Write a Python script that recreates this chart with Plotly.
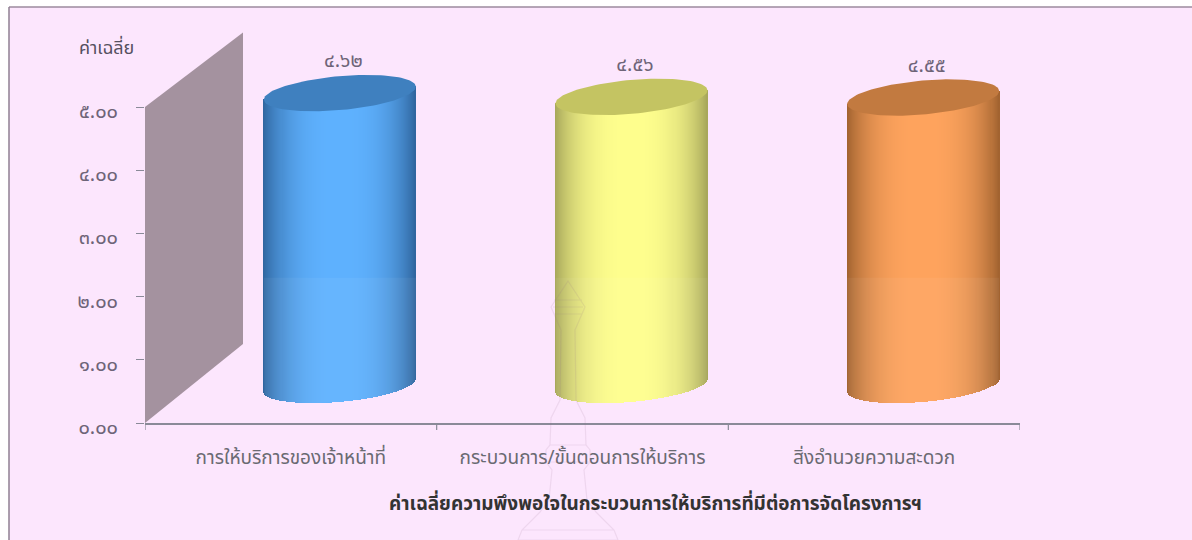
import numpy as np
import plotly.graph_objects as go

categories = ["การให้บริการของเจ้าหน้าที่", "กระบวนการ/ขั้นตอนการให้บริการ", "สิ่งอำนวยความสะดวก"]
values = [4.62, 4.56, 4.55]
y_ticks = [0, 1, 2, 3, 4, 5]
y_tick_labels = ["๐.๐๐", "๑.๐๐", "๒.๐๐", "๓.๐๐", "๔.๐๐", "๕.๐๐"]
y_title = "ค่าเฉลี่ย"
x_title = "ค่าเฉลี่ยความพึงพอใจในกระบวนการให้บริการที่มีต่อการจัดโครงการฯ"
side_center = ["#5FB2FF", "#FFFF8E", "#FFA45E"]
side_edge = ["#2F659E", "#A6A65A", "#A0622F"]
top_fill = ["#3F80BF", "#C4C462", "#C27A40"]

W, H = 1192, 540
X0, X1, Y0, PX_UNIT = 145, 1020, 423, 63.2
Y_MAX = 6.5
DEPTH_X, DEPTH_Y = 0.168, 0.6
A, B, S = 0.2606, 17 / PX_UNIT, 6.5 / PX_UNIT
N = 150
THAI = str.maketrans("0123456789", "๐๑๒๓๔๕๖๗๘๙")
FONT = "Noto Sans, Noto Sans Thai, DejaVu Sans, Liberation Sans, sans-serif"
AXIS = "#8A8A98"


def rgb(h):
    return np.array([int(h[i:i + 2], 16) for i in (1, 3, 5)], float)


def mix(edge, center, f):
    c = rgb(edge) * (1 - f) + rgb(center) * f
    return "rgb(%d,%d,%d)" % tuple(c)


fig = go.Figure()

# back wall
fig.add_trace(go.Scatter(
    x=[-0.5, -0.5, -0.5 + 2 * DEPTH_X, -0.5 + 2 * DEPTH_X, -0.5],
    y=[0, 5, 5 + 2 * DEPTH_Y - 0.02, 2 * DEPTH_Y + 0.05, 0],
    mode="lines", line=dict(width=0), fill="toself", fillcolor="#A4929F",
    hoverinfo="skip", showlegend=False))

for i, v in enumerate(values):
    cx = i + DEPTH_X
    u = (np.arange(N) + 0.5) / N * 2 - 1
    low = DEPTH_Y - B * np.sqrt(1 - u ** 2) + S * u
    high = DEPTH_Y + v + S * u
    f = np.clip(1 - np.abs(u) ** 2.6, 0, 1) ** 0.9
    colors = [mix(side_edge[i], side_center[i], a) for a in f]
    xs = cx + u * A
    fig.add_trace(go.Bar(
        x=xs, y=high - low, base=low, width=[2 * A / N * 1.15] * N,
        marker=dict(color=colors, line=dict(width=0)),
        hoverinfo="skip", showlegend=False))
    # lighter lower band in the source image
    fig.add_trace(go.Scatter(
        x=np.concatenate([[cx - A], xs, [cx + A], [cx - A]]),
        y=np.concatenate([[2.3], low, [2.3], [2.3]]),
        mode="lines", line=dict(width=0), fill="toself",
        fillcolor="rgba(255,255,255,0.05)",
        hoverinfo="skip", showlegend=False))
    t = np.linspace(0, 2 * np.pi, 120)
    fig.add_trace(go.Scatter(
        x=cx + A * np.cos(t), y=DEPTH_Y + v + S * np.cos(t) + B * np.sin(t),
        mode="lines", line=dict(width=0), fill="toself", fillcolor=top_fill[i],
        hoverinfo="skip", showlegend=False))
    fig.add_trace(go.Scatter(
        x=[cx + 0.012], y=[v + 1.09], mode="text",
        text=[f"{v:.2f}".translate(THAI)], textposition="middle center",
        textfont=dict(family=FONT, size=20, color="#6E6478"),
        hoverinfo="skip", showlegend=False))


def px(x):
    return x / W


def py(y):
    return 1 - y / H


def emblem_path():
    half = [(0, 281), (17, 307), (7, 330), (8, 400), (17, 418), (18, 445), (22, 450),
            (22, 462), (16, 470), (19, 500), (28, 512), (46, 530), (50, 540)]
    pts = [(568 - a, b) for a, b in half] + [(568 + a, b) for a, b in reversed(half)]
    body = "M" + " L".join(f"{px(a):.5f},{py(b):.5f}" for a, b in pts) + " Z"
    bars = "".join(f" M{px(568 - a):.5f},{py(b):.5f} L{px(568 + a):.5f},{py(b):.5f}"
                   for a, b in [(14, 300), (15, 307), (14, 314), (18, 445), (22, 462), (19, 500), (46, 530)])
    return body + bars


shapes = [
    dict(type="rect", xref="paper", yref="paper", x0=px(9), x1=1, y0=0, y1=py(7),
         fillcolor="#FCE6FD", line=dict(width=0), layer="below"),
    dict(type="line", xref="paper", yref="paper", x0=px(9), x1=1, y0=py(7), y1=py(7),
         line=dict(color="#9C8A9E", width=1.5), layer="below"),
    dict(type="line", xref="paper", yref="paper", x0=px(9), x1=px(9), y0=0, y1=py(7),
         line=dict(color="#8F7F92", width=1.5), layer="below"),
    dict(type="path", xref="paper", yref="paper", path=emblem_path(),
         line=dict(color="rgba(150,110,140,0.13)", width=1.2), layer="above"),
]

fig.update_layout(
    width=W, height=H, margin=dict(l=0, r=0, t=0, b=0),
    paper_bgcolor="white", plot_bgcolor="rgba(0,0,0,0)",
    barmode="overlay", bargap=0, shapes=shapes, showlegend=False,
    font=dict(family=FONT),
    xaxis=dict(domain=[px(X0), px(X1)], range=[-0.5, 2.5], tickmode="array",
               tickvals=[0, 1, 2], ticktext=categories, ticks="", automargin=False,
               ticklabelstandoff=16,
               tickfont=dict(size=19, color="#6A6A72"), showgrid=False,
               zeroline=False, showline=True, linecolor=AXIS, linewidth=1.5),
    yaxis=dict(domain=[py(Y0), py(Y0 - Y_MAX * PX_UNIT)], range=[0, Y_MAX],
               tickmode="array", tickvals=y_ticks, ticktext=y_tick_labels,
               ticks="outside", ticklen=8, tickcolor=AXIS, automargin=False,
               ticklabelstandoff=14, ticklabelshift=4,
               tickfont=dict(size=20, color="#6E6478"), showgrid=False,
               zeroline=False, showline=False),
    annotations=[
        dict(text=y_title, xref="paper", yref="paper", x=px(106), y=py(47), showarrow=False,
             xanchor="center", yanchor="middle", font=dict(size=18, color="#555060")),
        dict(text="<b>%s</b>" % x_title, xref="paper", yref="paper", x=px(655), y=py(503),
             showarrow=False, xanchor="center", yanchor="middle",
             font=dict(size=19, color="#333333")),
    ],
)
# category dividers on the x axis
for k in (-0.5, 0.5, 1.5, 2.5):
    fig.add_shape(type="line", xref="x", yref="paper", x0=k, x1=k, y0=py(Y0), y1=py(Y0 + 7),
                  line=dict(color=AXIS, width=1.2))

fig.write_html("out.html", config={"displayModeBar": False},
               post_script="document.body.style.margin='0';document.body.style.overflow='hidden';")
